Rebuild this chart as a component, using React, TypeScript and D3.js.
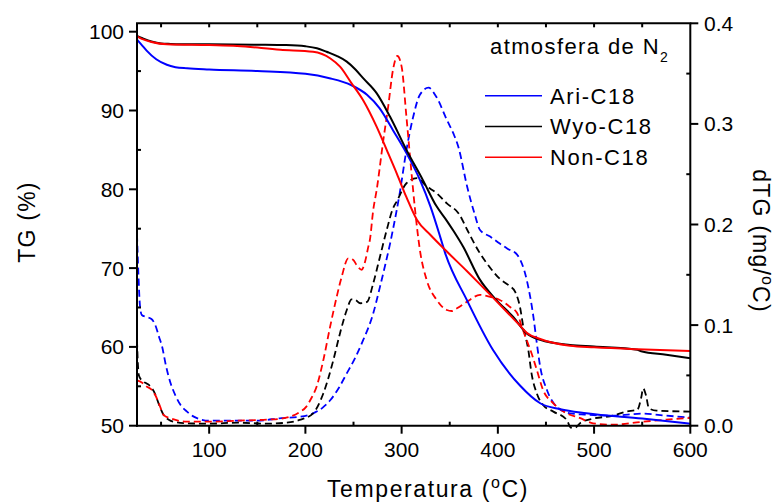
import React from 'react';
import * as d3 from 'd3';

// ---------- data (Temperatura °C, TG %, dTG mg/°C) ----------
const ariTgT = [25, 30, 35, 45, 56, 65, 77, 100, 150, 200, 225, 248, 264, 277, 291, 305, 319, 330, 340, 345, 368, 395, 423, 444, 465, 492, 550, 596, 600];
const ariTgV = [99.0, 98.3, 97.6, 96.5, 95.8, 95.5, 95.35, 95.2, 95.0, 94.65, 94.1, 93.2, 92.0, 90.3, 87.5, 84.6, 81.2, 77.8, 74.0, 72.0, 65.9, 59.6, 55.1, 52.85, 52.08, 51.57, 50.9, 50.3, 50.25];

const wyoTgT = [25, 30, 40, 50, 60, 80, 100, 150, 180, 200, 212, 222, 233, 243, 252, 260, 274, 288, 305, 322, 336, 347, 354, 364, 381, 398, 416, 430, 444, 475, 500, 545, 549, 575, 600];
const wyoTgV = [99.45, 99.2, 98.75, 98.5, 98.45, 98.4, 98.4, 98.35, 98.3, 98.15, 97.9, 97.45, 96.9, 96.2, 95.2, 94.1, 92.2, 89.2, 85.0, 81.2, 77.9, 76.0, 74.7, 72.7, 68.6, 66.0, 63.8, 61.7, 60.9, 60.24, 60.05, 59.65, 59.45, 59.0, 58.55];

const nonTgT = [25, 30, 40, 56, 100, 129, 174, 208, 226, 236, 248, 260, 274, 284.5, 295, 305, 316, 330, 347, 368, 381, 397, 423, 430, 444, 475, 500, 545, 600];
const nonTgV = [99.4, 99.1, 98.7, 98.4, 98.3, 98.2, 97.7, 97.45, 96.6, 95.56, 93.45, 91.3, 87.95, 85.0, 82.0, 79.0, 76.1, 74.2, 72.1, 69.6, 68.0, 66.0, 62.7, 61.8, 61.0, 60.15, 59.95, 59.7, 59.48];

const ariDtgT = [25, 26.5, 28, 30, 35, 40, 44, 48, 51, 55, 60, 65, 70, 77, 84, 92, 100, 150, 175, 195, 208, 218, 226, 235, 243, 252, 260, 270, 277.5, 283, 288, 291, 298, 305, 312, 319, 328, 336, 347, 354, 359, 368, 376, 381.5, 392, 402, 410, 420, 430, 437, 440.5, 444, 451, 461, 475, 490, 520, 550, 575, 600];
const ariDtgV = [0.19, 0.15, 0.12, 0.11, 0.108, 0.106, 0.1, 0.088, 0.079, 0.06, 0.042, 0.03, 0.021, 0.014, 0.009, 0.006, 0.005, 0.005, 0.0075, 0.009, 0.0123, 0.018, 0.0255, 0.038, 0.052, 0.068, 0.085, 0.11, 0.138, 0.16, 0.181, 0.195, 0.231, 0.274, 0.307, 0.329, 0.336, 0.327, 0.304, 0.29, 0.277, 0.238, 0.21, 0.1945, 0.188, 0.181, 0.176, 0.17, 0.145, 0.108, 0.082, 0.0586, 0.0355, 0.019, 0.0123, 0.011, 0.01, 0.012, 0.01, 0.008];

const wyoDtgT = [25, 26, 27, 30, 35, 39, 43.6, 47.5, 52.7, 58, 63, 77, 100, 130, 160, 180, 194, 208, 218.6, 229, 236, 243, 248, 252, 257, 264, 270.5, 277.5, 284.5, 291, 295, 305, 315.7, 326, 336.5, 347, 360, 368, 381, 392, 402, 412, 418, 423, 426.5, 431.7, 435, 440.5, 447, 457.7, 471.6, 476, 480, 486, 499, 520, 533, 545, 549, 551, 554, 557, 565, 600];
const wyoDtgV = [0.085, 0.06, 0.05, 0.045, 0.042, 0.039, 0.032, 0.022, 0.0106, 0.006, 0.004, 0.0024, 0.002, 0.003, 0.002, 0.003, 0.0057, 0.0123, 0.032, 0.065, 0.092, 0.115, 0.1256, 0.125, 0.1217, 0.123, 0.1415, 0.168, 0.1945, 0.216, 0.223, 0.241, 0.246, 0.238, 0.231, 0.221, 0.21, 0.195, 0.172, 0.157, 0.146, 0.139, 0.133, 0.118, 0.098, 0.075, 0.052, 0.032, 0.0206, 0.014, 0.0057, -0.002, -0.002, 0.003, 0.007, 0.01, 0.014, 0.016, 0.028, 0.037, 0.03, 0.0173, 0.015, 0.014];

const nonDtgT = [25, 30, 35, 40.5, 44, 49, 52.7, 60, 77, 100, 130, 160, 175, 184, 193, 201, 206, 211.7, 218.6, 225.6, 232.5, 237.7, 244.6, 249.8, 253, 258.5, 262, 265.4, 267, 270.5, 274, 281, 286, 291, 295.5, 300, 305, 310.3, 314, 319, 326, 336.5, 347, 352, 357.5, 367.6, 381.5, 392, 402, 412.7, 420, 425, 430, 435, 440.5, 447, 457.7, 471.6, 485, 499, 520, 551, 575, 600];
const nonDtgV = [0.045, 0.043, 0.039, 0.0355, 0.0305, 0.019, 0.0106, 0.0073, 0.004, 0.004, 0.005, 0.006, 0.007, 0.009, 0.013, 0.019, 0.027, 0.039, 0.065, 0.098, 0.128, 0.148, 0.1664, 0.1647, 0.16, 0.155, 0.163, 0.178, 0.1846, 0.2144, 0.234, 0.284, 0.317, 0.3536, 0.3675, 0.357, 0.307, 0.251, 0.2144, 0.1746, 0.145, 0.125, 0.115, 0.114, 0.1167, 0.123, 0.13, 0.128, 0.125, 0.118, 0.112, 0.098, 0.085, 0.072, 0.0554, 0.0355, 0.0223, 0.0123, 0.0077, 0.0024, 0.001, 0.004, 0.006, 0.0077];

const seriesNames = ['Ari-C18', 'Wyo-C18', 'Non-C18'];
const seriesColors = ['#0000ff', '#000000', '#ff0000'];

const xTicks = [100, 200, 300, 400, 500, 600];
const xMinor = [50, 150, 250, 350, 450, 550];
const xTop = [50, 100, 150, 200, 250, 300, 350, 400, 450, 500, 550];
const yLTicks = [50, 60, 70, 80, 90, 100];
const yLMinor = [55, 65, 75, 85, 95];
const yRTicks = [0, 0.1, 0.2, 0.3, 0.4];
const yRMinor = [0.05, 0.15, 0.25, 0.35];

const zip = (t: number[], v: number[]) => t.map((d, i) => [d, v[i]] as [number, number]);

export default function App() {
  const W = 778, H = 503;
  const left = 137, right = 690.3, top = 23.3, bottom = 425.7;
  const x = d3.scaleLinear().domain([25, 600]).range([left, right]);
  const yL = d3.scaleLinear().domain([50, 50 + (bottom - top) / 7.88]).range([bottom, top]);
  const yR = d3.scaleLinear().domain([0, 0.4]).range([bottom, top]);

  const lineL = d3.line<[number, number]>().x(d => x(d[0])).y(d => yL(d[1])).curve(d3.curveMonotoneX);
  const lineR = d3.line<[number, number]>().x(d => x(d[0])).y(d => yR(d[1])).curve(d3.curveMonotoneX);

  const tg = [zip(ariTgT, ariTgV), zip(wyoTgT, wyoTgV), zip(nonTgT, nonTgV)];
  const dtg = [zip(ariDtgT, ariDtgV), zip(wyoDtgT, wyoDtgV), zip(nonDtgT, nonDtgV)];

  const font = '"Liberation Sans", Arial, sans-serif';
  const fmtR = d3.format('.1f');

  return (
    <svg width={W} height={H} style={{ position: 'absolute', left: 0, top: 0, background: '#fff' }} fontFamily={font}>
      <rect x={0} y={0} width={W} height={H} fill="#fff" />
      {/* dTG dashed */}
      {dtg.map((d, i) => (
        <path key={'d' + i} d={lineR(d) || ''} fill="none" stroke={seriesColors[i]} strokeWidth={1.8} strokeDasharray="7,4" />
      ))}
      {/* TG solid */}
      {tg.map((d, i) => (
        <path key={'t' + i} d={lineL(d) || ''} fill="none" stroke={seriesColors[i]} strokeWidth={2} />
      ))}

      {/* frame */}
      <g stroke="#000" strokeWidth={2} fill="none">
        <line x1={left} x2={left} y1={top} y2={bottom + 1} />
        <line x1={right} x2={right} y1={top} y2={bottom + 1} />
        <line x1={left - 1} x2={right + 1} y1={bottom} y2={bottom} />
        <line x1={left - 1} x2={right + 1} y1={top} y2={top} />
        {xTicks.map(t => <line key={'xt' + t} x1={x(t)} x2={x(t)} y1={bottom} y2={bottom + 8} />)}
        {xMinor.map(t => <line key={'xm' + t} x1={x(t)} x2={x(t)} y1={bottom} y2={bottom - 4} />)}
        {xTop.map(t => <line key={'xtp' + t} x1={x(t)} x2={x(t)} y1={top} y2={top + 4} />)}
        {yLTicks.map(t => <line key={'yl' + t} x1={left - 8} x2={left} y1={yL(t)} y2={yL(t)} />)}
        {yLMinor.map(t => <line key={'ylm' + t} x1={left} x2={left + 4} y1={yL(t)} y2={yL(t)} />)}
        {yRTicks.map(t => <line key={'yr' + t} x1={right} x2={right + 8} y1={yR(t)} y2={yR(t)} />)}
        {yRMinor.map(t => <line key={'yrm' + t} x1={right - 4} x2={right} y1={yR(t)} y2={yR(t)} />)}
      </g>

      {/* tick labels */}
      <g fontSize={21} fill="#000">
        {xTicks.map(t => <text key={'xl' + t} x={x(t)} y={457} textAnchor="middle">{t}</text>)}
        {yLTicks.map(t => <text key={'yll' + t} x={124} y={yL(t) + 7.5} textAnchor="end">{t}</text>)}
        {yRTicks.map(t => <text key={'yrl' + t} x={704} y={yR(t) + 7.5} textAnchor="start">{fmtR(t)}</text>)}
      </g>

      {/* axis titles */}
      <text x={327} y={497} fontSize={23} letterSpacing={1.6} fill="#000">
        Temperatura (<tspan fontSize={16} dy={-9}>o</tspan><tspan dy={9}>C)</tspan>
      </text>
      <text transform="translate(35,222) rotate(-90)" fontSize={23} letterSpacing={1.2} textAnchor="middle" fill="#000">TG (%)</text>
      <text transform="translate(753,241) rotate(90)" fontSize={23} letterSpacing={1.2} textAnchor="middle" fill="#000">
        dTG (mg/<tspan fontSize={16} dy={-9}>o</tspan><tspan dy={9}>C)</tspan>
      </text>

      {/* legend */}
      <text x={490} y={53.5} fontSize={22} letterSpacing={1.4} fill="#000">
        atmosfera de N<tspan fontSize={14} dy={8}>2</tspan>
      </text>
      {seriesNames.map((n, i) => (
        <g key={n}>
          <line x1={485} x2={542} y1={95.7 + i * 30.8} y2={95.7 + i * 30.8} stroke={seriesColors[i]} strokeWidth={1.5} />
          <text x={550} y={103.5 + i * 30.8} fontSize={22} letterSpacing={1.6} fill="#000">{n}</text>
        </g>
      ))}
    </svg>
  );
}
